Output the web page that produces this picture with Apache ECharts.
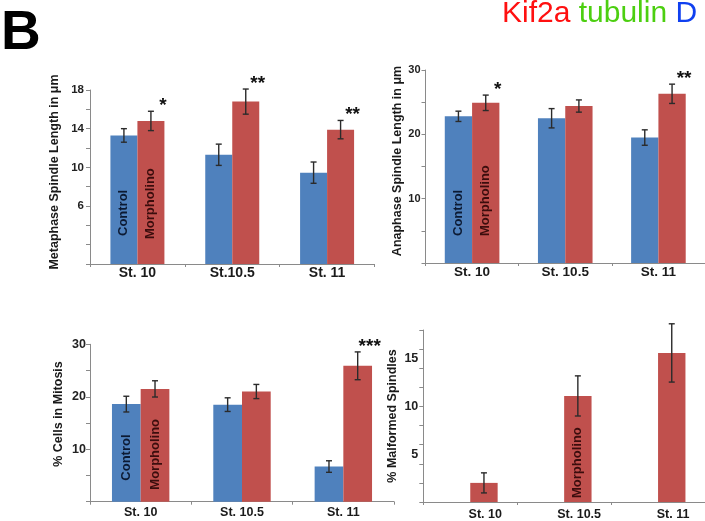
<!DOCTYPE html>
<html>
<head>
<meta charset="utf-8">
<script src="https://cdn.jsdelivr.net/npm/echarts@6/dist/echarts.min.js"></script>
<style>
html,body{margin:0;padding:0;background:#fff;}
#c{width:705px;height:521px;}
</style>
</head>
<body>
<div id="c"></div>
<script>
// ---------- data ----------
const catsMeta = ['St. 10', 'St.10.5', 'St. 11'];
const catsAna = ['St. 10', 'St. 10.5', 'St. 11'];
const catsMit = ['St. 10', 'St. 10.5', 'St. 11'];
const catsMal = ['St. 10', 'St. 10.5', 'St. 11'];

const metaControl = [13.3, 11.3, 9.45];
const metaControlErr = [0.7, 1.1, 1.1];
const metaMorph = [14.8, 16.8, 13.9];
const metaMorphErr = [1.0, 1.3, 0.95];
const metaSig = ['*', '**', '**'];

const anaControl = [22.8, 22.5, 19.5];
const anaControlErr = [0.8, 1.5, 1.2];
const anaMorph = [24.9, 24.4, 26.3];
const anaMorphErr = [1.2, 0.95, 1.5];
const anaSig = ['*', '', '**'];

const mitControl = [18.6, 18.5, 6.7];
const mitControlErr = [1.5, 1.3, 1.1];
const mitMorph = [21.5, 21.0, 25.9];
const mitMorphErr = [1.55, 1.35, 2.65];
const mitSig = ['', '', '***'];

const malMorph = [2.0, 11.1, 15.6];
const malMorphErr = [1.05, 2.1, 3.05];

const metaTicks = [6, 10, 14, 18];
const anaTicks = [10, 20, 30];
const mitTicks = [10, 20, 30];
const malTicks = [5, 10, 15];

// ---------- styles ----------
const BLUE = '#4f81bd';
const RED = '#c0504d';
const AXIS = '#8a8a8a';
const FONT = '"Liberation Sans", Arial, sans-serif';

const panels = [
  {grid:{left:90, top:90, width:284.5, height:174}, cats:catsMeta, min:0, max:18, interval:2, ticks:metaTicks,
   name:'Metaphase Spindle Length in \u03bcm', nameGap:29, namePad:10, yFont:11.5, xFont:14, xMargin:2, yMargin:6,
   control:metaControl, controlErr:metaControlErr, morph:metaMorph, morphErr:metaMorphErr, sig:metaSig,
   barW:27, ctrlLabel:{idx:0, d:28}, morphLabel:{idx:0, d:25}},
  {grid:{left:425.5, top:70, width:286.5, height:193}, cats:catsAna, min:0, max:30, interval:5, ticks:anaTicks,
   name:'Anaphase Spindle Length in \u03bcm', nameGap:21, namePad:11, yFont:11, xFont:13.5, xMargin:2, yMargin:5,
   control:anaControl, controlErr:anaControlErr, morph:anaMorph, morphErr:anaMorphErr, sig:anaSig,
   barW:27.3, ctrlLabel:{idx:0, d:27}, morphLabel:{idx:0, d:27}},
  {grid:{left:90, top:344.3, width:304, height:157.4}, cats:catsMit, min:0, max:30, interval:5, ticks:mitTicks,
   name:'% Cells in Mitosis', nameGap:25, namePad:18, yFont:12.5, xFont:12.5, xMargin:4, yMargin:4,
   control:mitControl, controlErr:mitControlErr, morph:mitMorph, morphErr:mitMorphErr, sig:mitSig,
   barW:28.7, ctrlLabel:{idx:0, d:21}, morphLabel:{idx:0, d:12}},
  {grid:{left:423.3, top:330, width:296, height:172.7}, cats:catsMal, min:0, max:18, interval:2, ticks:malTicks, custom:true,
   name:'% Malformed Spindles', nameGap:24, namePad:0, yFont:12.5, xFont:12.5, xMargin:6, yMargin:5, xShift:30,
   control:null, controlErr:null, morph:malMorph, morphErr:malMorphErr, sig:null,
   barW:27.4, ctrlLabel:null, morphLabel:{idx:1, d:4}}
];

const grids = [], xAxes = [], yAxes = [], series = [];

panels.forEach((p, gi) => {
  grids.push(Object.assign({}, p.grid));
  xAxes.push({
    type:'category', gridIndex:gi, data:p.cats,
    axisLine:{show:true, lineStyle:{color:AXIS, width:1}},
    axisTick:{show:true, interval:0, length:3, lineStyle:{color:AXIS}},
    axisLabel:{fontFamily:FONT, fontWeight:'bold', fontSize:p.xFont, color:'#1a1a1a', margin:p.xMargin, interval:0,
               padding: p.xShift ? [0,0,0,p.xShift] : 0},
    splitLine:{show:false}
  });
  const yAxis = {
    type:'value', gridIndex:gi, min:p.min, max:p.max, interval:p.interval,
    name:p.name, nameLocation:'middle', nameGap:p.nameGap,
    nameTextStyle:{fontFamily:FONT, fontWeight:'bold', fontSize:12.5, color:'#1a1a1a', padding:[0,0,0,p.namePad]},
    axisLine:{show:true, lineStyle:{color:AXIS, width:1}},
    axisTick:{show:true, length:4, lineStyle:{color:AXIS}},
    axisLabel:{fontFamily:FONT, fontWeight:'bold', fontSize:p.yFont, color:'#222', margin:p.yMargin,
               formatter:(v) => p.ticks.indexOf(v) >= 0 ? String(v) : ''},
    splitLine:{show:false}
  };
  if (p.custom) {
    yAxis.axisLabel.customValues = p.ticks;
    yAxis.axisLabel.formatter = (v) => String(v);
    const t = [];
    for (let v = p.min; v <= p.max; v += p.interval) t.push(v);
    yAxis.axisTick.customValues = t;
  }
  yAxes.push(yAxis);

  const mkLabel = (text, color, d) => ({
    show:true, position:'insideBottom', rotate:90, align:'left', verticalAlign:'middle',
    distance:d, formatter:text, fontFamily:FONT, fontWeight:'bold', fontSize:13, color:color
  });
  const ctrlData = (p.control || [null,null,null]).map((v, i) => {
    const item = {value: v == null ? '-' : v};
    if (p.ctrlLabel && p.ctrlLabel.idx === i) item.label = mkLabel('Control', '#0c1a33', p.ctrlLabel.d);
    return item;
  });
  const morphData = p.morph.map((v, i) => {
    const item = {value:v};
    if (p.morphLabel && p.morphLabel.idx === i) item.label = mkLabel('Morpholino', '#3b0d0d', p.morphLabel.d);
    return item;
  });
  series.push({type:'bar', xAxisIndex:gi, yAxisIndex:gi, data:ctrlData, barWidth:p.barW, barGap:'0%',
               itemStyle:{color:BLUE}, silent:true, animation:false});
  series.push({type:'bar', xAxisIndex:gi, yAxisIndex:gi, data:morphData, barWidth:p.barW, barGap:'0%',
               itemStyle:{color:RED}, silent:true, animation:false});

  const errSeries = (vals, errs, dx) => ({
    type:'custom', xAxisIndex:gi, yAxisIndex:gi, animation:false, silent:true, z:5,
    data: vals.map((v, i) => [i, v, errs[i]]),
    renderItem: (params, api) => {
      const i = api.value(0), v = api.value(1), e = api.value(2);
      const top = api.coord([i, v + e]);
      const bot = api.coord([i, v - e]);
      const x = top[0] + dx;
      const st = {stroke:'#2b2b2b', lineWidth:1.4};
      const cw = 3;
      return {type:'group', children:[
        {type:'line', shape:{x1:x, y1:top[1], x2:x, y2:bot[1]}, style:st},
        {type:'line', shape:{x1:x-cw, y1:top[1], x2:x+cw, y2:top[1]}, style:st},
        {type:'line', shape:{x1:x-cw, y1:bot[1], x2:x+cw, y2:bot[1]}, style:st}
      ]};
    }
  });
  if (p.control) series.push(errSeries(p.control, p.controlErr, -p.barW/2));
  series.push(errSeries(p.morph, p.morphErr, p.barW/2));

  if (p.sig) {
    series.push({
      type:'custom', xAxisIndex:gi, yAxisIndex:gi, animation:false, silent:true, z:6,
      data: p.morph.map((v, i) => [i, v + p.morphErr[i]]),
      renderItem: (params, api) => {
        const txt = p.sig[params.dataIndex];
        if (!txt) return null;
        const pt = api.coord([api.value(0), api.value(1)]);
        return {type:'text', x: pt[0] + p.barW/2 + 12, y: pt[1] + 4,
          style:{text:txt, font:'bold 19px ' + FONT, fill:'#111', align:'center', verticalAlign:'bottom'}};
      }
    });
  }
});

const chart = echarts.init(document.getElementById('c'), null, {renderer:'canvas'});
chart.setOption({
  animation:false,
  backgroundColor:'#ffffff',
  grid:grids, xAxis:xAxes, yAxis:yAxes, series:series,
  graphic:[
    {type:'text', left:1, top:6, style:{text:'B', font:'bold 55px ' + FONT, fill:'#000'}},
    {type:'text', left:502, top:-1, style:{
      text:'{r|Kif2a} {g|tubulin} {b|D}', font:'30px ' + FONT,
      rich:{r:{fill:'#ff1010', font:'30px ' + FONT}, g:{fill:'#4ccf10', font:'30px ' + FONT}, b:{fill:'#1040f0', font:'30px ' + FONT}}
    }}
  ]
});
</script>
</body>
</html>
